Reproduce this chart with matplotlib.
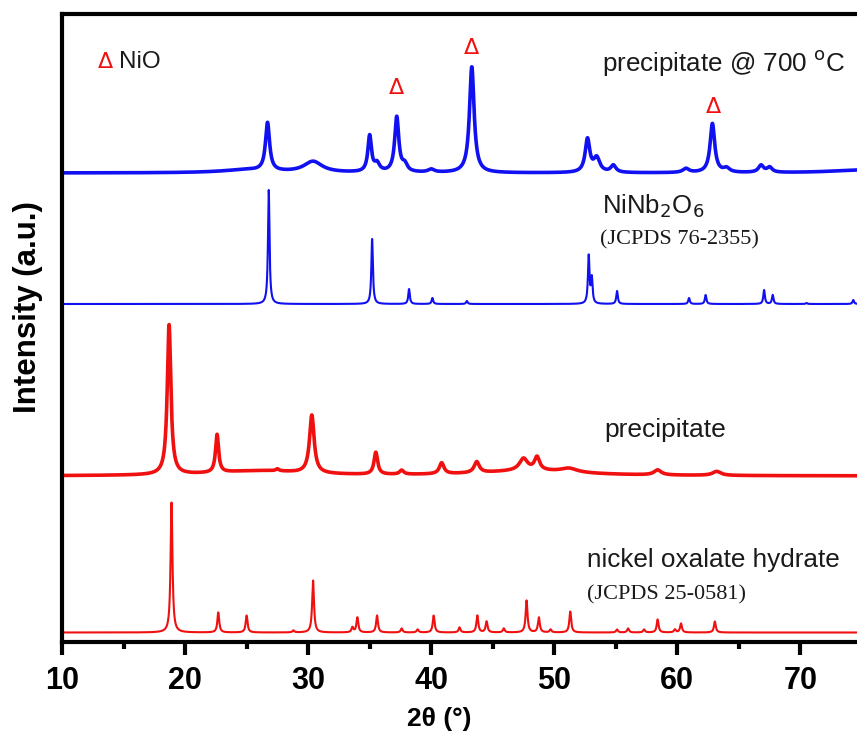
import numpy as np
import matplotlib
matplotlib.use("Agg")
import matplotlib.pyplot as plt

# ---------------- data ----------------
x_min, x_max = 10, 74.6

# nickel oxalate hydrate reference (JCPDS 25-0581) - red, bottom
ox_offset = 9.5
ox_pos = [18.9, 22.7, 25.0, 28.8, 30.4, 33.6, 34.0, 35.6, 37.6, 38.9, 40.2, 42.3, 43.75,
          44.5, 45.9, 47.75, 48.75, 49.7, 51.3, 55.1, 56.0, 57.3, 58.4, 59.8, 60.3, 63.05]
ox_h = [130, 20, 17, 2, 52, 5, 15, 17, 4, 3, 17, 5, 17,
        11, 4, 32, 15, 3, 21, 3, 4, 3, 13, 3, 9, 11]
ox_w = 0.18

# precipitate - red, experimental
pr_offset = 166
pr_pos = [18.7, 22.6, 27.5, 30.3, 35.5, 37.6, 40.85, 43.7, 47.5, 48.6, 51.2, 58.4, 63.2]
pr_h = [150, 38, 2, 58, 22, 4, 11, 11, 12, 13, 4, 5, 4]
pr_w = [0.35, 0.3, 0.3, 0.45, 0.35, 0.4, 0.45, 0.5, 0.8, 0.5, 1.6, 0.7, 0.8]
pr_bg_pos = [26.0, 48.0]
pr_bg_h = [5, 5]
pr_bg_w = [9.0, 10.0]

# NiNb2O6 reference (JCPDS 76-2355) - blue
nb_offset = 338
nb_pos = [26.8, 35.2, 38.2, 40.1, 42.9, 52.8, 53.05, 55.1, 60.95, 62.3, 67.05, 67.75, 70.5, 74.3]
nb_h = [114, 65, 15, 6, 3, 48, 25, 13, 6, 9, 14, 9, 1, 4]
nb_w = 0.15

# precipitate @ 700 C - blue, experimental
hp_offset = 469
hp_pos = [26.7, 30.4, 35.0, 35.6, 37.2, 37.85, 40.0, 43.3, 52.7, 53.45, 54.8, 60.7, 62.85, 64.0, 66.8, 67.5]
hp_h = [48, 11, 36, 8, 55, 7, 3, 106, 33, 14, 7, 4, 49, 4, 7, 5]
hp_w = [0.4, 1.8, 0.35, 0.5, 0.4, 0.5, 0.6, 0.45, 0.45, 0.6, 0.5, 0.6, 0.45, 0.6, 0.5, 0.5]
hp_bg_pos = [25.0, 75.0]
hp_bg_h = [3, 3]
hp_bg_w = [5.0, 6.0]

nio_marks = [37.2, 43.3, 62.9]
nio_mark_y = [554, 594, 535]

xticks = [10, 20, 30, 40, 50, 60, 70]
xticks_minor = [15, 25, 35, 45, 55, 65]


# ---------------- helpers ----------------
def profile(x, pos, h, w):
    y = np.zeros_like(x)
    w = np.broadcast_to(np.asarray(w, float), (len(pos),))
    for p, a, ww in zip(pos, h, w):
        hw = ww / 2.0
        y += a * hw ** 2 / ((x - p) ** 2 + hw ** 2)
    return y


x = np.linspace(x_min, x_max, 4000)

fig = plt.figure(figsize=(8.57, 7.36), dpi=100)
ax = fig.add_axes([62 / 857, 1 - 642 / 736, 1 - 62 / 857, (642 - 14) / 736])

blue = "#1010f0"
red = "#f01010"

y_ox = ox_offset + profile(x, ox_pos, ox_h, ox_w)
y_pr = pr_offset + profile(x, pr_pos, pr_h, pr_w) + profile(x, pr_bg_pos, pr_bg_h, pr_bg_w)
y_nb = nb_offset + profile(x, nb_pos, nb_h, nb_w)
y_hp = hp_offset + profile(x, hp_pos, hp_h, hp_w) + profile(x, hp_bg_pos, hp_bg_h, hp_bg_w)

ax.plot(x, y_ox, color=red, lw=1.5)
ax.plot(x, y_pr, color=red, lw=2.6)
ax.plot(x, y_nb, color=blue, lw=1.5)
ax.plot(x, y_hp, color=blue, lw=2.6)

ax.set_xlim(x_min, x_max)
ax.set_ylim(0, 628)

for s in ["left", "bottom", "top"]:
    ax.spines[s].set_linewidth(3)
ax.spines["right"].set_visible(False)

ax.set_xticks(xticks)
ax.set_xticks(xticks_minor, minor=True)
ax.tick_params(axis="x", which="major", length=9, width=3, direction="out", pad=8)
ax.tick_params(axis="x", which="minor", length=5, width=3, direction="out")
ax.set_yticks([])
for lab in ax.get_xticklabels():
    lab.set_fontsize(22)
    lab.set_fontweight("bold")
    lab.set_family("Liberation Sans")

sans = "Liberation Sans"
serif = "Liberation Serif"
tc = "#1a1a1a"

fig.text(439 / 857, 1 - 719 / 736, "2θ (°)", fontsize=19, fontweight="bold",
         family=sans, ha="center", va="center")
fig.text(28 / 857, 1 - 307 / 736, "Intensity (a.u.)", fontsize=22.5, fontweight="bold",
         family=sans, ha="center", va="center", rotation=90)

# NiO legend
ax.text(13.5, 580, "Δ", color=red, fontsize=16, family="DejaVu Sans", ha="center", va="center")
ax.text(14.65, 580, "NiO", color=tc, fontsize=17.5, family=sans, ha="left", va="center")
for xm, ym in zip(nio_marks, nio_mark_y):
    ax.text(xm, ym, "Δ", color=red, fontsize=16, family="DejaVu Sans", ha="center", va="center")

ax.text(53.85, 579, "precipitate @ 700 $^{\\mathrm{o}}$C", color=tc, fontsize=18.7, family=sans,
        ha="left", va="center")
ax.text(53.85, 436, "NiNb$_{2}$O$_{6}$", color=tc, fontsize=18.5, family=sans, ha="left", va="center")
ax.text(53.75, 402, "(JCPDS 76-2355)", color=tc, fontsize=16, family=serif, ha="left", va="center")
ax.text(54.1, 212, "precipitate", color=tc, fontsize=19, family=sans, ha="left", va="center")
ax.text(52.65, 82, "nickel oxalate hydrate", color=tc, fontsize=18.8, family=sans, ha="left", va="center")
ax.text(52.65, 47, "(JCPDS 25-0581)", color=tc, fontsize=16, family=serif, ha="left", va="center")

fig.savefig("out.png", dpi=100)
